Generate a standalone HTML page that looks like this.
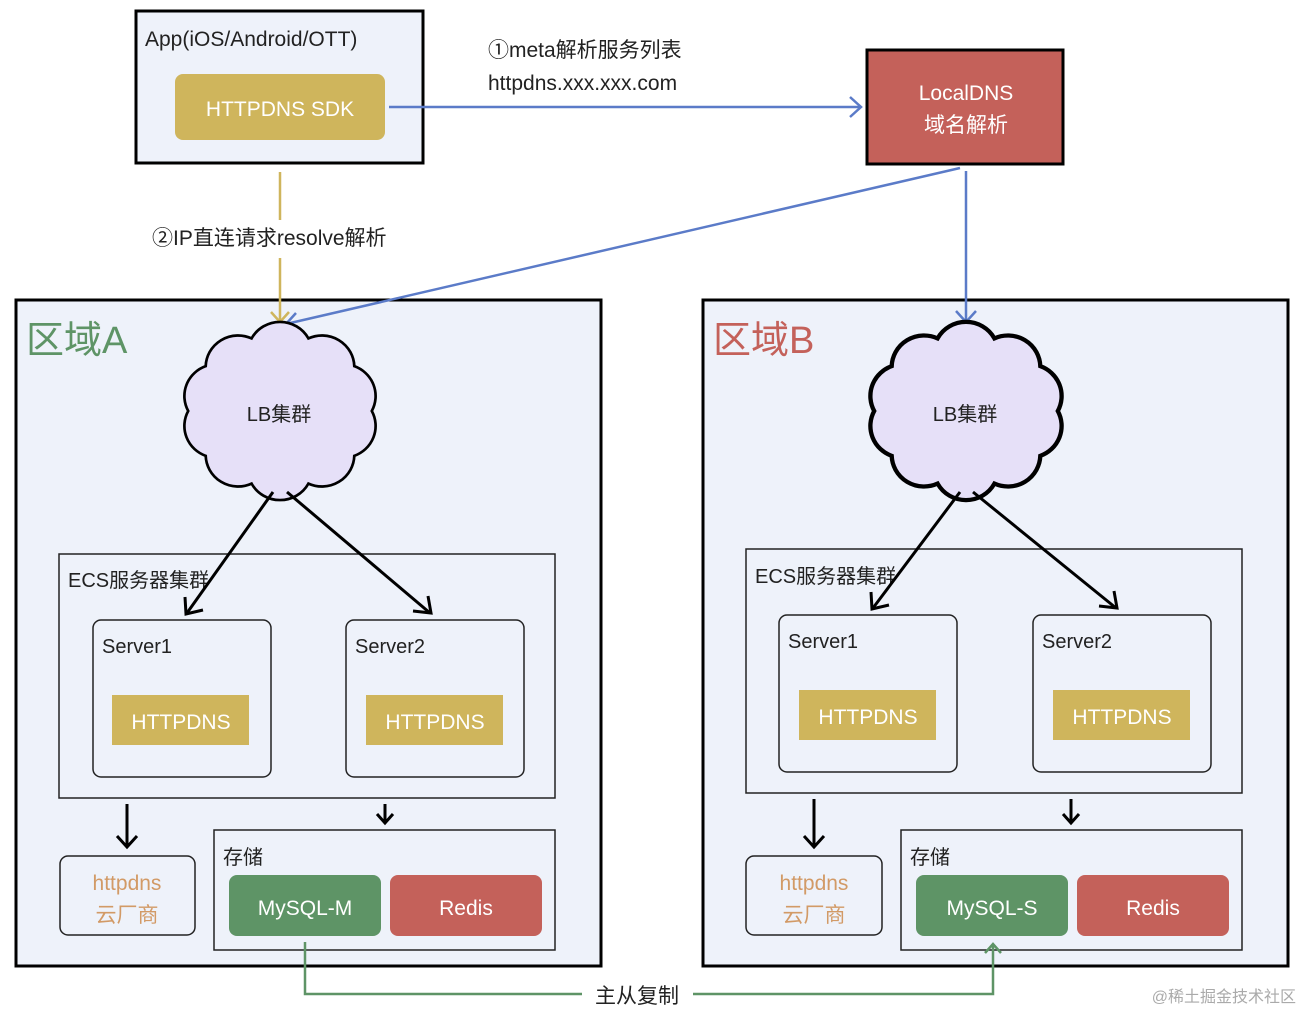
<!DOCTYPE html>
<html><head><meta charset="utf-8"><style>
html,body{margin:0;padding:0;background:#fff;}
svg text{font-family:"Liberation Sans","Noto Sans CJK SC",sans-serif;}
</style></head><body>
<svg width="1302" height="1012" viewBox="0 0 1302 1012" xmlns="http://www.w3.org/2000/svg">
<defs>
<path id="cloud" d="M85,0 A30,30 0 0 1 68.8,42.3 A30,30 0 0 1 26.3,68.5 A30,30 0 0 1 -26.3,68.5 A30,30 0 0 1 -68.8,42.3 A30,30 0 0 1 -85,0 A30,30 0 0 1 -68.8,-42.3 A30,30 0 0 1 -26.3,-68.5 A30,30 0 0 1 26.3,-68.5 A30,30 0 0 1 68.8,-42.3 A30,30 0 0 1 85,0 Z"/>
</defs>
<!-- App box -->
<rect x="136" y="11" width="287" height="152" fill="#eef2fa" stroke="#000" stroke-width="3"/>
<text x="145" y="46" font-size="21" fill="#222">App(iOS/Android/OTT)</text>
<rect x="175" y="74" width="210" height="66" rx="8" fill="#cfb55c"/>
<text x="280" y="116" font-size="21" fill="#fff" text-anchor="middle">HTTPDNS SDK</text>
<!-- arrow to LocalDNS -->
<line x1="389" y1="107" x2="860" y2="107" stroke="#5b7bc8" stroke-width="2.5"/>
<polyline points="850,97 861,107 850,117" fill="none" stroke="#5b7bc8" stroke-width="2.5"/>
<text x="488" y="57" font-size="21" fill="#222">①meta解析服务列表</text>
<text x="488" y="90" font-size="21" fill="#222">httpdns.xxx.xxx.com</text>
<!-- LocalDNS -->
<rect x="867" y="50" width="196" height="114" fill="#c4615a" stroke="#000" stroke-width="3"/>
<text x="966" y="100" font-size="21" fill="#fff" text-anchor="middle">LocalDNS</text>
<text x="966" y="132" font-size="21" fill="#fff" text-anchor="middle">域名解析</text>

<!-- Region A -->
<rect x="16" y="300" width="585" height="666" fill="#eef2fa" stroke="#000" stroke-width="3"/>
<text x="26" y="353" font-size="38" fill="#5e9466">区域A</text>
<!-- Region B -->
<rect x="703" y="300" width="585" height="666" fill="#eef2fa" stroke="#000" stroke-width="3"/>
<text x="713" y="353" font-size="38" fill="#c4615a">区域B</text>

<!-- gold arrow -->
<line x1="280" y1="172" x2="280" y2="220" stroke="#cfb55c" stroke-width="2.5"/>
<line x1="280" y1="258" x2="280" y2="322" stroke="#cfb55c" stroke-width="2.5"/>
<polyline points="271,312 280,322 289,312" fill="none" stroke="#cfb55c" stroke-width="2.5"/>
<text x="152" y="245" font-size="21" fill="#222">②IP直连请求resolve解析</text>
<!-- blue diagonal -->
<line x1="960" y1="168" x2="286" y2="324" stroke="#5b7bc8" stroke-width="2.5"/>
<polyline points="296,313 286,324 299,330" fill="none" stroke="#5b7bc8" stroke-width="2.5"/>
<!-- blue vertical -->
<line x1="966" y1="171" x2="966" y2="321" stroke="#5b7bc8" stroke-width="2.5"/>
<polyline points="956,311 966,322 976,311" fill="none" stroke="#5b7bc8" stroke-width="2.5"/>

<!-- clouds -->
<use href="#cloud" transform="translate(280,411) scale(1.08,1.06)" fill="#e6e0f8" stroke="#000" stroke-width="2.5"/>
<text x="279" y="421" font-size="20" fill="#222" text-anchor="middle">LB集群</text>
<use href="#cloud" transform="translate(966,411) scale(1.08,1.06)" fill="#e6e0f8" stroke="#000" stroke-width="4"/>
<text x="965" y="421" font-size="20" fill="#222" text-anchor="middle">LB集群</text>

<!-- ECS A -->
<rect x="59" y="554" width="496" height="244" fill="#eef2fa" stroke="#222" stroke-width="1.5"/>
<text x="68" y="587" font-size="20" fill="#222">ECS服务器集群</text>
<rect x="93" y="620" width="178" height="157" rx="8" fill="#eef2fa" stroke="#222" stroke-width="1.5"/>
<text x="102" y="653" font-size="20" fill="#222">Server1</text>
<rect x="112" y="695" width="137" height="50" fill="#cfb55c"/>
<text x="181" y="729" font-size="21" fill="#fff" text-anchor="middle">HTTPDNS</text>
<rect x="346" y="620" width="178" height="157" rx="8" fill="#eef2fa" stroke="#222" stroke-width="1.5"/>
<text x="355" y="653" font-size="20" fill="#222">Server2</text>
<rect x="366" y="695" width="137" height="50" fill="#cfb55c"/>
<text x="435" y="729" font-size="21" fill="#fff" text-anchor="middle">HTTPDNS</text>
<!-- ECS B -->
<rect x="746" y="549" width="496" height="244" fill="#eef2fa" stroke="#222" stroke-width="1.5"/>
<text x="755" y="583" font-size="20" fill="#222">ECS服务器集群</text>
<rect x="779" y="615" width="178" height="157" rx="8" fill="#eef2fa" stroke="#222" stroke-width="1.5"/>
<text x="788" y="648" font-size="20" fill="#222">Server1</text>
<rect x="799" y="690" width="137" height="50" fill="#cfb55c"/>
<text x="868" y="724" font-size="21" fill="#fff" text-anchor="middle">HTTPDNS</text>
<rect x="1033" y="615" width="178" height="157" rx="8" fill="#eef2fa" stroke="#222" stroke-width="1.5"/>
<text x="1042" y="648" font-size="20" fill="#222">Server2</text>
<rect x="1053" y="690" width="137" height="50" fill="#cfb55c"/>
<text x="1122" y="724" font-size="21" fill="#fff" text-anchor="middle">HTTPDNS</text>

<!-- LB arrows -->
<g stroke="#000" stroke-width="3" fill="none">
<line x1="273" y1="492" x2="187" y2="613"/><polyline points="185,597 186,614 203,610"/>
<line x1="287" y1="492" x2="430" y2="613"/><polyline points="413,611 431,613 428,596"/>
<line x1="960" y1="492" x2="873" y2="608"/><polyline points="871,592 872,609 889,605"/>
<line x1="973" y1="492" x2="1116" y2="608"/><polyline points="1099,606 1117,608 1114,591"/>
<!-- down arrows -->
<line x1="127" y1="804" x2="127" y2="846"/><polyline points="117,836 127,847 137,836"/>
<line x1="385" y1="804" x2="385" y2="822"/><polyline points="377,814 385,823 393,814"/>
<line x1="814" y1="799" x2="814" y2="846"/><polyline points="804,836 814,847 824,836"/>
<line x1="1071" y1="799" x2="1071" y2="822"/><polyline points="1063,814 1071,823 1079,814"/>
</g>

<!-- A bottom -->
<rect x="60" y="856" width="135" height="79" rx="8" fill="#eef2fa" stroke="#222" stroke-width="1.5"/>
<text x="127" y="890" font-size="21" fill="#d29a66" text-anchor="middle">httpdns</text>
<text x="127" y="922" font-size="21" fill="#d29a66" text-anchor="middle">云厂商</text>
<rect x="214" y="830" width="341" height="120" fill="#eef2fa" stroke="#222" stroke-width="1.5"/>
<text x="223" y="864" font-size="20" fill="#222">存储</text>
<rect x="229" y="875" width="152" height="61" rx="8" fill="#5e9466"/>
<text x="305" y="915" font-size="21" fill="#fff" text-anchor="middle">MySQL-M</text>
<rect x="390" y="875" width="152" height="61" rx="8" fill="#c4615a"/>
<text x="466" y="915" font-size="21" fill="#fff" text-anchor="middle">Redis</text>
<!-- B bottom -->
<rect x="746" y="856" width="136" height="79" rx="8" fill="#eef2fa" stroke="#222" stroke-width="1.5"/>
<text x="814" y="890" font-size="21" fill="#d29a66" text-anchor="middle">httpdns</text>
<text x="814" y="922" font-size="21" fill="#d29a66" text-anchor="middle">云厂商</text>
<rect x="901" y="830" width="341" height="120" fill="#eef2fa" stroke="#222" stroke-width="1.5"/>
<text x="910" y="864" font-size="20" fill="#222">存储</text>
<rect x="916" y="875" width="152" height="61" rx="8" fill="#5e9466"/>
<text x="992" y="915" font-size="21" fill="#fff" text-anchor="middle">MySQL-S</text>
<rect x="1077" y="875" width="152" height="61" rx="8" fill="#c4615a"/>
<text x="1153" y="915" font-size="21" fill="#fff" text-anchor="middle">Redis</text>

<!-- replication -->
<polyline points="305,942 305,994 582,994" fill="none" stroke="#5e9466" stroke-width="2.5"/>
<polyline points="693,994 993,994 993,944" fill="none" stroke="#5e9466" stroke-width="2.5"/>
<polyline points="985,953 993,944 1001,953" fill="none" stroke="#5e9466" stroke-width="2.5"/>
<text x="637" y="1003" font-size="21" fill="#222" text-anchor="middle">主从复制</text>
<text x="1296" y="1002" font-size="16" fill="#aaa" text-anchor="end">@稀土掘金技术社区</text>
</svg>
</body></html>
